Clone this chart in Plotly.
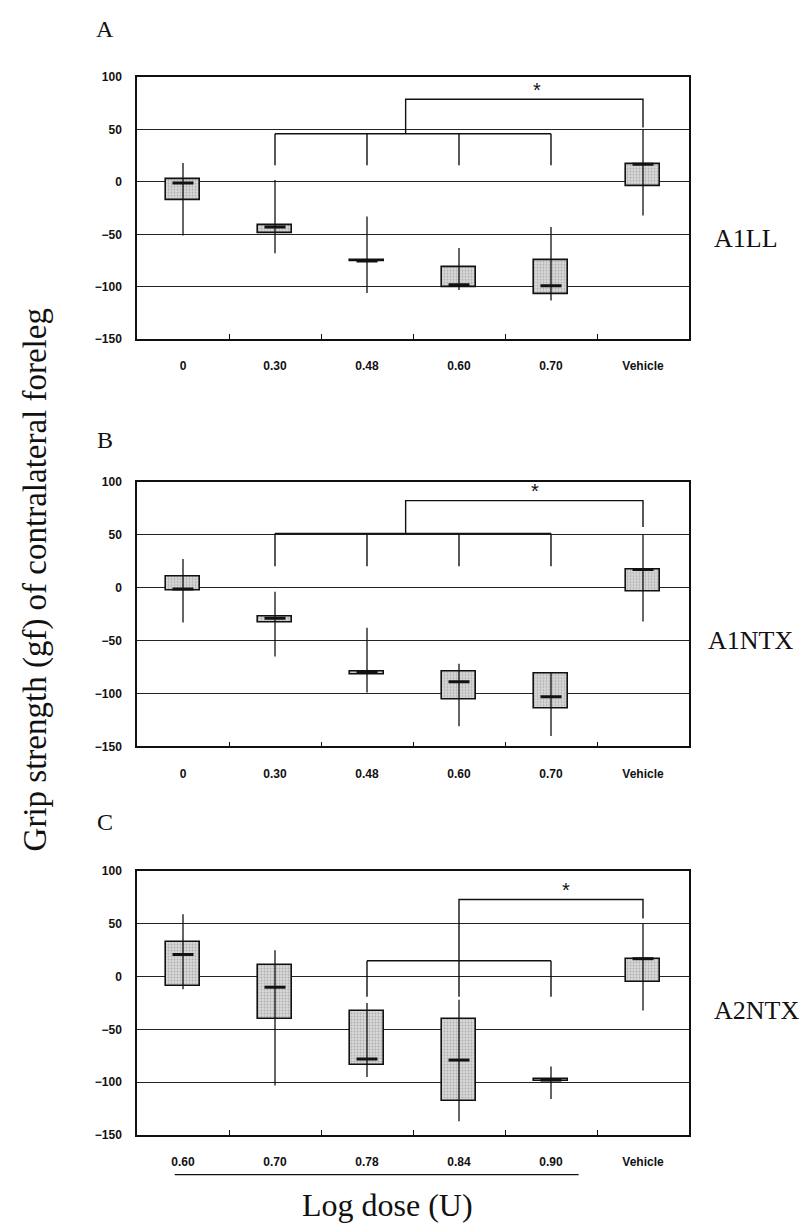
import plotly.graph_objects as go

# Dose groups (x tick labels) for each panel
doses_a = ["0", "0.30", "0.48", "0.60", "0.70", "Vehicle"]
doses_b = ["0", "0.30", "0.48", "0.60", "0.70", "Vehicle"]
doses_c = ["0.60", "0.70", "0.78", "0.84", "0.90", "Vehicle"]

# Box statistics, grip strength change (gf): whisker low, Q1, median, Q3, whisker high
a_low = [-51, -68, -106, -103, -113, -32]
a_q1 = [-17, -49, -76, -100, -107, -4]
a_med = [-1, -43, -75.5, -98, -99, 17]
a_q3 = [3, -41, -75, -81, -75, 17]
a_high = [18, 2, -33, -63, -43, 50]

b_low = [-33, -65, -99, -131, -140, -32]
b_q1 = [-3, -33, -82, -106, -114, -4]
b_med = [-1.5, -29, -80, -89, -103, 17]
b_q3 = [10, -27, -79, -79, -81, 17]
b_high = [27, -4, -38, -72, -80, 50]

c_low = [-12, -103, -95, -137, -116, -32]
c_q1 = [-9, -40, -84, -118, -99, -5]
c_med = [21, -10, -78, -79, -98, 17]
c_q3 = [33, 11, -33, -40, -97, 17]
c_high = [59, 25, -25, -22, -85, 50]

# Significance brackets: legs (group index), leg bottom, bar height
a_lower_legs, a_lower_foot, a_lower_bar = [1, 2, 3, 4], 16, 46
a_upper_from, a_upper_top, a_upper_foot = 2.42, 79, 52
a_star = (3.85, 88)

b_lower_legs, b_lower_foot, b_lower_bar = [1, 2, 3, 4], 20, 51
b_upper_from, b_upper_top, b_upper_foot = 2.42, 82, 57
b_star = (3.83, 91)

c_lower_legs, c_lower_foot, c_lower_bar = [2, 4], -19, 15
c_upper_from, c_upper_top, c_upper_foot = 3, 73, 55
c_star = (4.16, 82)

W, H = 810, 1231
X_DOM = [137 / W, 689 / W]
Y_DOMS = [
    [1 - 336 / H, 1 - 71 / H],
    [1 - 748 / H, 1 - 480 / H],
    [1 - 1141 / H, 1 - 874 / H],
]

panels = [
    (doses_a, a_low, a_q1, a_med, a_q3, a_high,
     a_lower_legs, a_lower_foot, a_lower_bar, a_upper_from, a_upper_top, a_upper_foot, a_star,
     "A", "A1LL"),
    (doses_b, b_low, b_q1, b_med, b_q3, b_high,
     b_lower_legs, b_lower_foot, b_lower_bar, b_upper_from, b_upper_top, b_upper_foot, b_star,
     "B", "A1NTX"),
    (doses_c, c_low, c_q1, c_med, c_q3, c_high,
     c_lower_legs, c_lower_foot, c_lower_bar, c_upper_from, c_upper_top, c_upper_foot, c_star,
     "C", "A2NTX"),
]

LETTER_Y = [22, 438, 824]
NAME_XY = [(746, 234), (750, 641), (756, 1015)]

serif = "Liberation Serif"
sans = "Liberation Sans"
ink = "#111111"

fig = go.Figure()
annotations = []
shapes = []


def paper_text(px, py, text, size, angle=0):
    return dict(x=px / W, y=1 - py / H, xref="paper", yref="paper", text=text,
                showarrow=False, xanchor="center", yanchor="middle", textangle=angle,
                font=dict(family=serif, size=size, color=ink))


for k, (labels, low, q1, med, q3, high,
        legs, foot, bar_y, up_from, up_top, up_foot, star, letter, name) in enumerate(panels):
    sfx = "" if k == 0 else str(k + 1)
    xa, ya = "x" + sfx, "y" + sfx
    pos = list(range(len(labels)))
    last = pos[-1]

    # whiskers
    wx, wy = [], []
    for i in pos:
        wx += [i, i, None]
        wy += [low[i], high[i], None]
    fig.add_trace(go.Scatter(x=wx, y=wy, mode="lines", line=dict(color=ink, width=1.3),
                             xaxis=xa, yaxis=ya, showlegend=False, hoverinfo="skip"))

    # interquartile boxes
    fig.add_trace(go.Bar(
        x=pos, y=[max(q3[i] - q1[i], 1) for i in pos], base=q1, width=0.38,
        marker=dict(color="#d0d0d0",
                    pattern=dict(shape=".", fgcolor="#7f7f7f", bgcolor="#dadada",
                                 size=3, solidity=0.35),
                    line=dict(color=ink, width=1.6)),
        xaxis=xa, yaxis=ya, showlegend=False, hoverinfo="skip"))

    # medians
    fig.add_trace(go.Scatter(x=pos, y=med, mode="markers",
                             marker=dict(symbol="line-ew", size=15,
                                         line=dict(color=ink, width=3)),
                             xaxis=xa, yaxis=ya, showlegend=False, hoverinfo="skip"))

    # significance brackets
    bx, by = [], []
    for i in legs:
        bx += [i, i, None]
        by += [foot, bar_y, None]
    bx += [legs[0], legs[-1], None]
    by += [bar_y, bar_y, None]
    bx += [up_from, up_from, last, last]
    by += [bar_y if k < 2 else foot, up_top, up_top, up_foot]
    fig.add_trace(go.Scatter(x=bx, y=by, mode="lines", line=dict(color=ink, width=1.4),
                             xaxis=xa, yaxis=ya, showlegend=False, hoverinfo="skip"))

    annotations.append(dict(x=star[0], y=star[1], xref=xa, yref=ya, text="*",
                            showarrow=False, xanchor="center", yanchor="middle",
                            font=dict(family=sans, size=20, color=ink)))

    fig.update_layout(**{
        "xaxis" + sfx: dict(
            domain=X_DOM, anchor=ya, range=[-0.5, 5.5],
            tickvals=pos, ticktext=labels, ticks="", ticklabelstandoff=15,
            tickfont=dict(family=sans, size=12, color=ink, weight="bold"),
            minor=dict(tickvals=[i + 0.5 for i in pos[:-1]], ticks="inside",
                       ticklen=5, tickcolor=ink, tickwidth=1),
            showgrid=False, zeroline=False,
            showline=True, mirror=True, linecolor=ink, linewidth=1.5),
        "yaxis" + sfx: dict(
            domain=Y_DOMS[k], anchor=xa, range=[-150, 100], dtick=50,
            tickvals=[100, 50, 0, -50, -100, -150], ticks="", ticklabelstandoff=11,
            tickfont=dict(family=sans, size=12, color=ink, weight="bold"),
            showgrid=True, gridcolor="#222222", gridwidth=1,
            zeroline=True, zerolinecolor="#222222", zerolinewidth=1,
            showline=True, mirror=True, linecolor=ink, linewidth=1.5),
    })

    annotations.append(paper_text(105, LETTER_Y[k], letter, 24))
    annotations.append(paper_text(NAME_XY[k][0], NAME_XY[k][1], name, 26))

# y-axis title shared by all panels
annotations.append(paper_text(35, 580, "Grip strength (gf) of contralateral foreleg", 33, -90))
# x-axis title under panel C
annotations.append(paper_text(387, 1212, "Log dose (U)", 32))
# underline grouping the dose levels of panel C
shapes.append(dict(type="line", xref="x3", yref="paper", x0=-0.09, x1=4.3,
                   y0=1 - 1181 / H, y1=1 - 1181 / H, line=dict(color=ink, width=1.2)))

fig.update_layout(
    width=W, height=H, margin=dict(l=0, r=0, t=0, b=0),
    paper_bgcolor="white", plot_bgcolor="white",
    annotations=annotations, shapes=shapes, bargap=0,
)

fig.write_html("out.html")
